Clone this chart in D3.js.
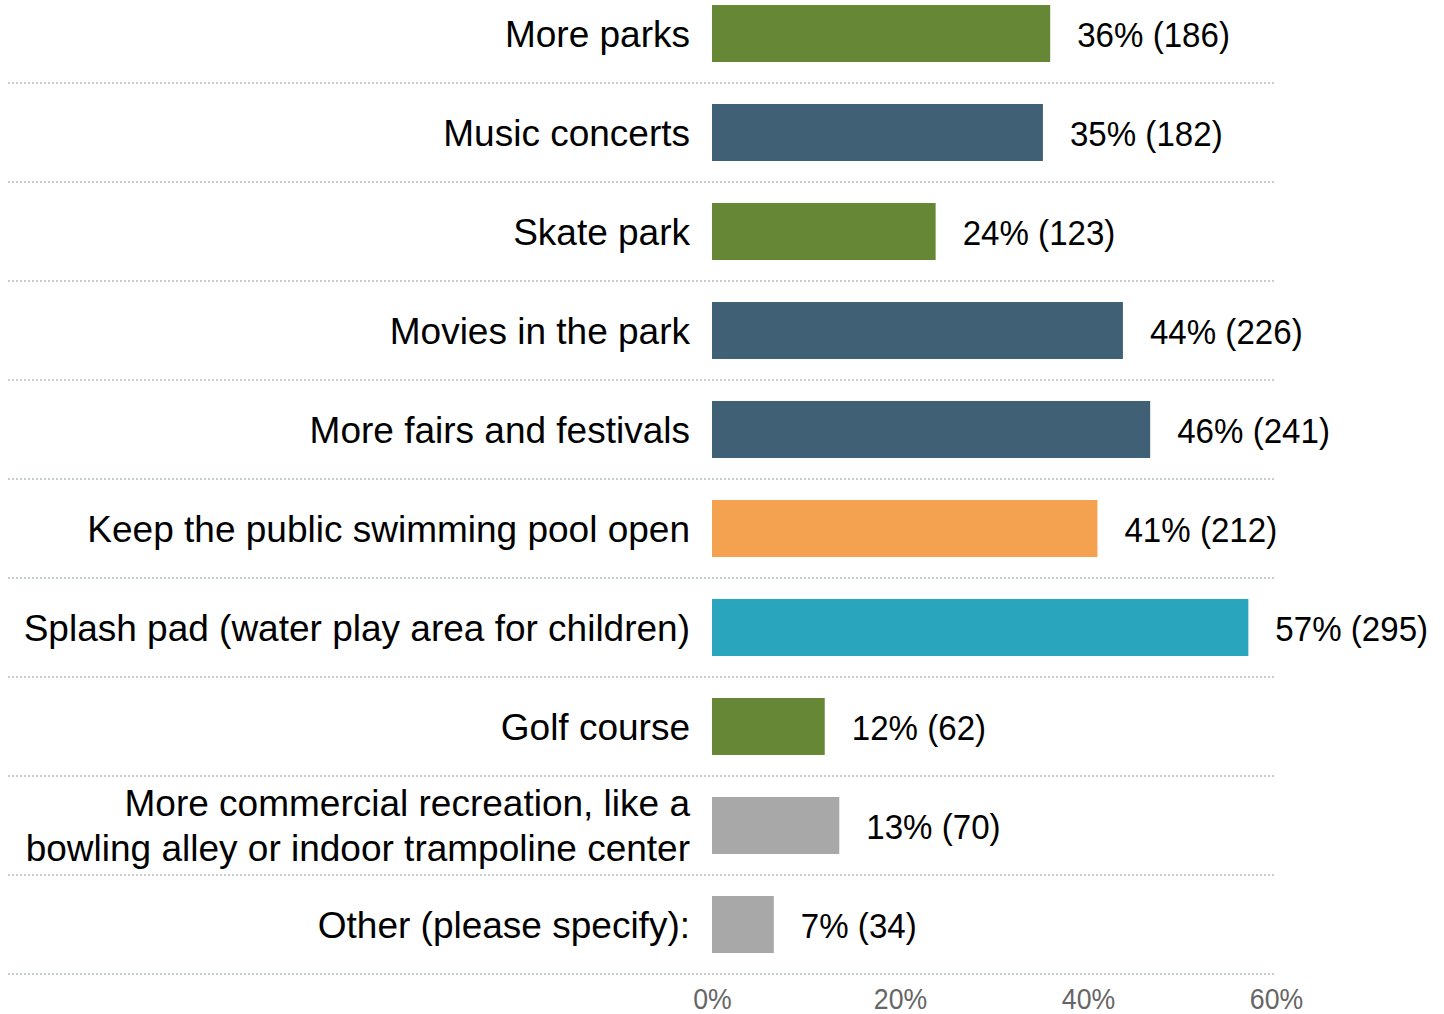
<!DOCTYPE html>
<html>
<head>
<meta charset="utf-8">
<script src="https://cdn.jsdelivr.net/npm/d3@7"></script>
<style>
  body { margin: 0; background: #fff; }
  svg { display: block; font-family: "Liberation Sans", Arial, sans-serif; }
</style>
</head>
<body>
<svg id="chart" width="1444" height="1014"></svg>
<script>
// survey answers, top to bottom
var categories = [
  "More parks",
  "Music concerts",
  "Skate park",
  "Movies in the park",
  "More fairs and festivals",
  "Keep the public swimming pool open",
  "Splash pad (water play area for children)",
  "Golf course",
  "More commercial recreation, like a|bowling alley or indoor trampoline center",
  "Other (please specify):"
];
var percents = [36, 35, 24, 44, 46, 41, 57, 12, 13, 7];
var counts = [186, 182, 123, 226, 241, 212, 295, 62, 70, 34];
var respondents = 517;
var groups = ["green", "slate", "green", "slate", "slate", "orange", "teal", "green", "gray", "gray"];
var tickValues = [0, 20, 40, 60];

var colors = {
  green: "#668736",
  slate: "#406075",
  orange: "#f4a250",
  teal: "#29a5bd",
  gray: "#a8a8a8"
};

var svg = d3.select("#chart");

var x = d3.scaleLinear().domain([0, 60]).range([712, 1276]);
var y = d3.scaleBand()
  .domain(categories)
  .range([-16, 974])
  .paddingInner(0.424)
  .paddingOuter(0.212);

var rows = categories.map(function (c, i) {
  return { cat: c, pct: percents[i], n: counts[i], share: 100 * counts[i] / respondents, grp: groups[i] };
});

function rowBottom(d) {
  return y(d) - y.step() * y.paddingOuter() + y.step();
}

// dotted separators under each row
svg.append("g")
  .selectAll("line")
  .data(categories)
  .enter()
  .append("line")
  .attr("x1", 8)
  .attr("x2", x(60))
  .attr("y1", rowBottom)
  .attr("y2", rowBottom)
  .attr("stroke", "#c6cecb")
  .attr("stroke-width", 2)
  .attr("stroke-dasharray", "2,2");

// bars
svg.append("g")
  .selectAll("rect")
  .data(rows)
  .enter()
  .append("rect")
  .attr("x", x(0))
  .attr("y", function (d) { return y(d.cat); })
  .attr("width", function (d) { return x(d.share) - x(0); })
  .attr("height", y.bandwidth())
  .attr("fill", function (d) { return colors[d.grp]; });

// category labels
var labels = svg.append("g")
  .selectAll("text")
  .data(rows)
  .enter()
  .append("text")
  .attr("x", 690)
  .attr("y", function (d) { return y(d.cat) + y.bandwidth() / 2; })
  .attr("text-anchor", "end")
  .attr("font-size", 37)
  .attr("fill", "#000");

labels.each(function (d) {
  var parts = d.cat.split("|");
  var t = d3.select(this);
  var lh = 45;
  parts.forEach(function (p, i) {
    t.append("tspan")
      .attr("x", 690)
      .attr("dy", i === 0 ? (13 - (parts.length - 1) * lh / 2) : lh)
      .text(p);
  });
});

// value labels
svg.append("g")
  .selectAll("g")
  .data(rows)
  .enter()
  .append("g")
  .attr("transform", function (d) {
    return "translate(" + (x(d.share) + 27) + "," + (y(d.cat) + y.bandwidth() / 2 + 13) + ") scale(0.92,1)";
  })
  .append("text")
  .attr("font-size", 36)
  .attr("fill", "#000")
  .text(function (d) { return d.pct + "% (" + d.n + ")"; });

// bottom axis
var axis = svg.append("g")
  .attr("transform", "translate(0,1009)")
  .call(d3.axisBottom(x).tickValues(tickValues).tickSize(0).tickPadding(0)
    .tickFormat(function (d) { return d + "%"; }));

axis.select(".domain").remove();
axis.selectAll("text")
  .attr("y", 0)
  .attr("dy", 0)
  .attr("font-size", 29)
  .attr("font-family", "Liberation Sans, Arial, sans-serif")
  .attr("fill", "#666")
  .attr("transform", "scale(0.92,1)");
</script>
</body>
</html>
